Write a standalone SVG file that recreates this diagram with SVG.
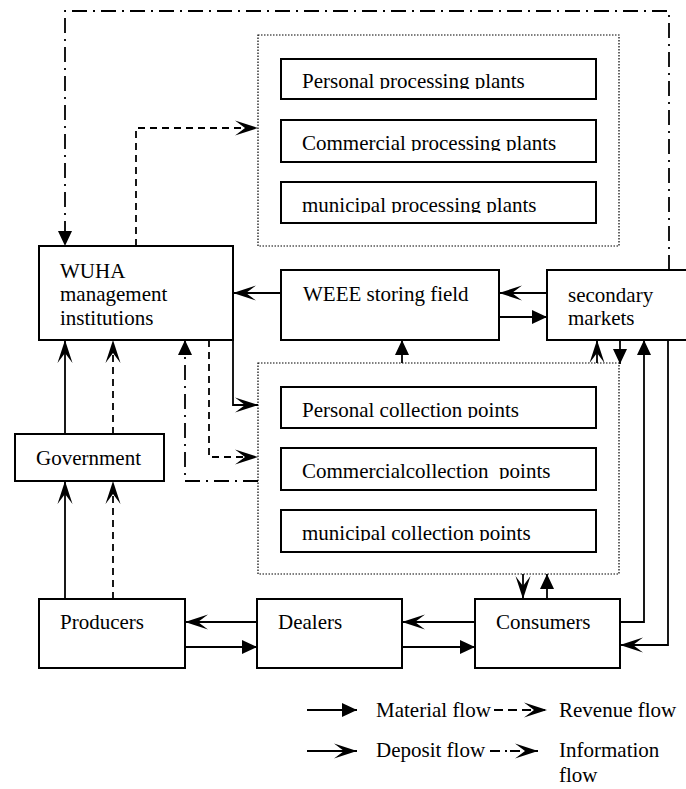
<svg xmlns="http://www.w3.org/2000/svg" width="686" height="789" viewBox="0 0 686 789" font-family="'Liberation Serif', 'DejaVu Serif', serif">
<style>
text{font-family:'Liberation Serif','DejaVu Serif',serif;font-size:21px;fill:#000}
.box{fill:#fff;stroke:#000;stroke-width:2}
.cont{fill:none;stroke:#000;stroke-width:1.2;stroke-dasharray:1.5 1.5}
.c{fill:none;stroke:#000;stroke-width:1.8}
.rev{stroke-dasharray:7 5}
.info{stroke-dasharray:15 6 2 6}
.legd{stroke-dasharray:9 5}
.legi{stroke-dasharray:10 5 2 3}
.mat{marker-end:url(#tri)}
.dep{marker-end:url(#notch)}
</style>
<defs>
<marker id="tri" markerUnits="userSpaceOnUse" markerWidth="15" markerHeight="15" viewBox="0 0 15 15" refX="15" refY="7.5" orient="auto"><path d="M0,0.5 L15,7.5 L0,14.5 Z" fill="#000"/></marker>
<marker id="notch" markerUnits="userSpaceOnUse" markerWidth="23" markerHeight="16" viewBox="0 0 23 16" refX="23" refY="8" orient="auto"><path d="M0,0.5 L23,8 L0,15.5 L10,8 Z" fill="#000"/></marker>
<clipPath id="cp1"><rect x="282" y="60" width="313" height="29"/></clipPath>
<clipPath id="cp2"><rect x="282" y="121" width="313" height="30"/></clipPath>
<clipPath id="cp3"><rect x="282" y="183" width="313" height="30"/></clipPath>
<clipPath id="cc1"><rect x="282" y="388" width="313" height="30"/></clipPath>
<clipPath id="cc2"><rect x="282" y="449" width="313" height="30"/></clipPath>
<clipPath id="cc3"><rect x="282" y="511" width="313" height="30"/></clipPath>
</defs>

<g id="connectors">
<path class="c info mat" d="M669,270 V11 H65 V246"/>
<path class="c rev dep" d="M136,246 V128 H258"/>
<path class="c dep" d="M281,293 H233"/>
<path class="c dep" d="M547,293 H499"/>
<path class="c mat" d="M499,317 H547"/>
<path class="c dep" d="M65,434 V340"/>
<path class="c rev dep" d="M113,434 V340"/>
<path class="c info mat" d="M258,481 H185 V340"/>
<path class="c dep" d="M233,340 V405 H258"/>
<path class="c rev dep" d="M209,340 V457 H258"/>
<path class="c mat" d="M402,363 V340"/>
<path class="c dep" d="M597,363 V340"/>
<path class="c mat" d="M620,340 V364"/>
<path class="c mat" d="M620,622 H644 V340"/>
<path class="c dep" d="M668,340 V645 H620"/>
<path class="c dep" d="M523,574 V599"/>
<path class="c mat" d="M547,599 V574"/>
<path class="c dep" d="M257,622 H185"/>
<path class="c mat" d="M185,647 H257"/>
<path class="c dep" d="M475,622 H402"/>
<path class="c mat" d="M402,647 H475"/>
<path class="c dep" d="M65,599 V481"/>
<path class="c rev dep" d="M113,599 V481"/>
</g>

<g id="processing">
<rect class="cont" x="258" y="35" width="361" height="211"/>
<g id="personal-processing"><rect class="box" x="281" y="59" width="315" height="40"/><text x="302" y="88" clip-path="url(#cp1)">Personal processing plants</text></g>
<g id="commercial-processing"><rect class="box" x="281" y="120" width="315" height="42"/><text x="302" y="150" clip-path="url(#cp2)">Commercial processing plants</text></g>
<g id="municipal-processing"><rect class="box" x="281" y="182" width="315" height="41"/><text x="302" y="212" clip-path="url(#cp3)">municipal processing plants</text></g>
</g>

<g id="collection">
<rect class="cont" x="258" y="363" width="361" height="211"/>
<g id="personal-collection"><rect class="box" x="281" y="387" width="315" height="41"/><text x="302" y="417" clip-path="url(#cc1)">Personal collection points</text></g>
<g id="commercial-collection"><rect class="box" x="281" y="448" width="315" height="42"/><text x="302" y="478" clip-path="url(#cc2)" xml:space="preserve">Commercialcollection  points</text></g>
<g id="municipal-collection"><rect class="box" x="281" y="510" width="315" height="42"/><text x="302" y="540" clip-path="url(#cc3)">municipal collection points</text></g>
</g>

<g id="wuha"><rect class="box" x="39" y="246" width="194" height="94"/><text x="60" y="278">WUHA</text><text x="60" y="301">management</text><text x="60" y="325">institutions</text></g>
<g id="weee"><rect class="box" x="281" y="270" width="218" height="70"/><text x="303" y="301">WEEE storing field</text></g>
<g id="secondary"><rect class="box" x="547" y="270" width="150" height="70"/><text x="568" y="302">secondary</text><text x="568" y="325">markets</text></g>
<g id="government"><rect class="box" x="15" y="434" width="149" height="47"/><text x="36" y="465">Government</text></g>
<g id="producers"><rect class="box" x="39" y="599" width="146" height="69"/><text x="60" y="629">Producers</text></g>
<g id="dealers"><rect class="box" x="257" y="599" width="145" height="69"/><text x="278" y="629">Dealers</text></g>
<g id="consumers"><rect class="box" x="475" y="599" width="145" height="69"/><text x="496" y="629">Consumers</text></g>

<g id="legend">
<path class="c mat" d="M307,710 H357"/>
<text x="376" y="717">Material flow</text>
<path class="c legd dep" d="M494,710 H547"/>
<text x="559" y="717">Revenue flow</text>
<path class="c dep" d="M307,751 H357"/>
<text x="376" y="757">Deposit flow</text>
<path class="c legi dep" d="M490,751 H538"/>
<text x="559" y="757">Information</text>
<text x="559" y="782">flow</text>
</g>
</svg>
